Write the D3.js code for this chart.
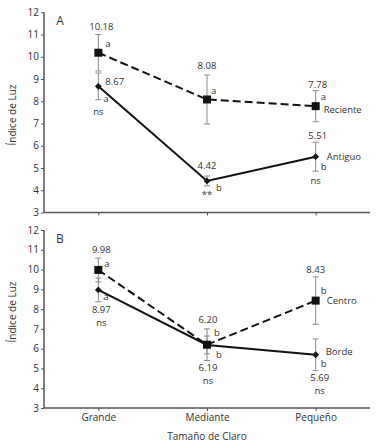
<!DOCTYPE html>
<html><head><meta charset="utf-8">
<script src="https://cdn.jsdelivr.net/npm/d3@7"></script>
<style>
html,body{margin:0;padding:0;background:#fff;}
svg text{font-family:"Open Sans","Noto Sans",sans-serif;fill:#333;}
</style></head>
<body><svg id="c" width="377" height="444"></svg>
<script>
const categories = ["Grande", "Mediante", "Pequeño"];
const yTicks = [3, 4, 5, 6, 7, 8, 9, 10, 11, 12];

// Panel A
const recienteMeans = [10.18, 8.08, 7.78];
const recienteErr = [0.82, 1.1, 0.7];
const recienteLetters = ["a", "a", "a"];
const antiguoMeans = [8.67, 4.42, 5.51];
const antiguoErr = [0.6, 0.22, 0.65];
const antiguoLetters = ["a", "b", "b"];
const antiguoSig = ["ns", "**", "ns"];

// Panel B
const centroMeans = [9.98, 6.20, 8.43];
const centroErr = [0.6, 0.8, 1.2];
const centroLetters = ["a", "b", "b"];
const bordeMeans = [8.97, 6.19, 5.69];
const bordeErr = [0.6, 0.45, 0.8];
const bordeLetters = ["a", "b", "b"];
const bordeSig = ["ns", "ns", "ns"];

const svg = d3.select("#c");
const x = d3.scalePoint().domain(categories).range([44, 370]).padding(0.5);

function fmt(v){ return v.toFixed(2); }

function panel(cfg) {
  const y = d3.scaleLinear().domain([3, 12]).range([cfg.bottom, cfg.top]);
  const g = svg.append("g");
  const ya = g.append("g").attr("transform", "translate(44,0)")
    .call(d3.axisLeft(y).tickValues(yTicks).tickSize(3).tickPadding(2).tickFormat(d3.format("d")));
  const xa = g.append("g").attr("transform", `translate(0,${cfg.bottom})`)
    .call(d3.axisBottom(x).tickSize(3).tickPadding(3).tickFormat(cfg.showX ? (d => d) : (d => "")));
  [ya, xa].forEach(a => {
    a.select(".domain").attr("stroke", "#555").attr("stroke-width", 1.5).attr("d",
      a === ya ? `M0,${cfg.bottom}V${cfg.top}` : `M44,0H370`);
    a.selectAll(".tick line").attr("stroke", "#555").attr("stroke-width", 1);
    a.selectAll(".tick text").attr("fill", "#333").style("font-size", "10px")
      .style("font-family", "'Open Sans',sans-serif");
  });
  g.append("text").attr("transform", `translate(16,${cfg.titleY}) rotate(-90)`)
    .attr("text-anchor", "middle").style("font-size", "10px").text("Índice de Luz");
  g.append("text").attr("x", 60).attr("y", cfg.top + 13).attr("text-anchor", "middle")
    .style("font-size", "12px").text(cfg.letter);

  const line = d3.line().x((d, i) => x(categories[i])).y(d => y(d));
  g.append("path").datum(cfg.solid.means).attr("d", line).attr("fill", "none")
    .attr("stroke", "#111").attr("stroke-width", 2);
  g.append("path").datum(cfg.dashed.means).attr("d", line).attr("fill", "none")
    .attr("stroke", "#111").attr("stroke-width", 2).attr("stroke-dasharray", "8,4");
  [cfg.dashed, cfg.solid].forEach(s => {
    s.means.forEach((m, i) => {
      const cx = x(categories[i]);
      const y1 = y(m + s.err[i]), y2 = y(m - s.err[i]);
      const eb = g.append("g").attr("stroke", "#8a8a8a").attr("stroke-width", 1);
      eb.append("line").attr("x1", cx).attr("x2", cx).attr("y1", y1).attr("y2", y2);
      eb.append("line").attr("x1", cx - 3).attr("x2", cx + 3).attr("y1", y1).attr("y2", y1);
      eb.append("line").attr("x1", cx - 3).attr("x2", cx + 3).attr("y1", y2).attr("y2", y2);
    });
  });
  cfg.dashed.means.forEach((m, i) => {
    g.append("rect").attr("x", x(categories[i]) - 4).attr("y", y(m) - 4)
      .attr("width", 8).attr("height", 8).attr("fill", "#111");
  });
  cfg.solid.means.forEach((m, i) => {
    g.append("path").attr("d", d3.symbol(d3.symbolDiamond2, 30)())
      .attr("transform", `translate(${x(categories[i])},${y(m)})`).attr("fill", "#111");
  });
  const lab = (t, px, py, anchor) => g.append("text").attr("x", px).attr("y", py + 3.3)
    .attr("text-anchor", anchor || "middle").style("font-size", "9.5px").text(t);
  cfg.annot(lab, y);
}

panel({
  top: 12.25, bottom: 212.5, titleY: 115, letter: "A", showX: false,
  dashed: { means: recienteMeans, err: recienteErr },
  solid: { means: antiguoMeans, err: antiguoErr },
  annot: (lab, y) => {
    const X = categories.map(c => x(c));
    const R = recienteMeans, Re = recienteErr, A = antiguoMeans, Ae = antiguoErr;
    lab(fmt(R[0]), X[0] + 3, y(R[0] + Re[0]) - 8);
    lab(recienteLetters[0], X[0] + 7, y(R[0]) - 9, "start");
    lab(fmt(R[1]), X[1], y(R[1] + Re[1]) - 9);
    lab(recienteLetters[1], X[1] + 4, y(R[1]) - 9, "start");
    lab(fmt(R[2]), X[2] + 2, y(R[2] + Re[2]) - 6);
    lab(recienteLetters[2], X[2] + 5, y(R[2]) - 9, "start");
    lab("Reciente", X[2] + 8, y(R[2]) + 4, "start");
    lab(fmt(A[0]), X[0] + 7, y(A[0]) - 5, "start");
    lab(antiguoLetters[0], X[0] + 5, y(A[0] - Ae[0]) - 1, "start");
    lab(antiguoSig[0], X[0], y(A[0] - Ae[0]) + 12);
    lab(fmt(A[1]), X[1], y(A[1] + Ae[1]) - 10);
    lab(antiguoLetters[1], X[1] + 9, y(A[1]) + 7, "start");
    lab(antiguoSig[1], X[1], y(A[1] - Ae[1]) + 9);
    lab(fmt(A[2]), X[2] + 2, y(A[2] + Ae[2]) - 6);
    lab("Antiguo", X[2] + 11, y(A[2]), "start");
    lab(antiguoLetters[2], X[2] + 5, y(A[2]) + 10, "start");
    lab(antiguoSig[2], X[2], y(A[2] - Ae[2]) + 10);
  }
});

panel({
  top: 230, bottom: 408, titleY: 312, letter: "B", showX: true,
  dashed: { means: centroMeans, err: centroErr },
  solid: { means: bordeMeans, err: bordeErr },
  annot: (lab, y) => {
    const X = categories.map(c => x(c));
    const C = centroMeans, Ce = centroErr, B = bordeMeans, Be = bordeErr;
    lab(fmt(C[0]), X[0] + 3, y(C[0] + Ce[0]) - 8);
    lab(centroLetters[0], X[0] + 6, y(C[0]) - 6, "start");
    lab(bordeLetters[0], X[0] + 5, y(B[0] - Be[0]) - 5, "start");
    lab(fmt(B[0]), X[0] + 3, y(B[0] - Be[0]) + 8);
    lab(bordeSig[0], X[0] + 3, y(B[0] - Be[0]) + 21);

    lab(fmt(C[1]), X[1] + 1, y(C[1] + Ce[1]) - 9);
    lab(centroLetters[1], X[1] + 7, y(C[1]) - 12, "start");
    lab(bordeLetters[1], X[1] + 9, y(B[1]) + 10, "start");
    lab(fmt(B[1]), X[1] + 1, y(B[1] - Be[1]) + 14);
    lab(bordeSig[1], X[1] + 1, y(B[1] - Be[1]) + 27);

    lab(fmt(C[2]), X[2], y(C[2] + Ce[2]) - 7);
    lab(centroLetters[2], X[2] + 5, y(C[2]) - 10, "start");
    lab("Centro", X[2] + 11, y(C[2]), "start");
    lab("Borde", X[2] + 10, y(B[2]) - 3, "start");
    lab(bordeLetters[2], X[2] + 5, y(B[2]) + 9, "start");
    lab(fmt(B[2]), X[2] + 4, y(B[2] - Be[2]) + 7);
    lab(bordeSig[2], X[2] + 4, y(B[2] - Be[2]) + 20);
  }
});

svg.append("text").attr("x", 207).attr("y", 440).attr("text-anchor", "middle")
  .style("font-size", "10px").text("Tamaño de Claro");
</script></body></html>
